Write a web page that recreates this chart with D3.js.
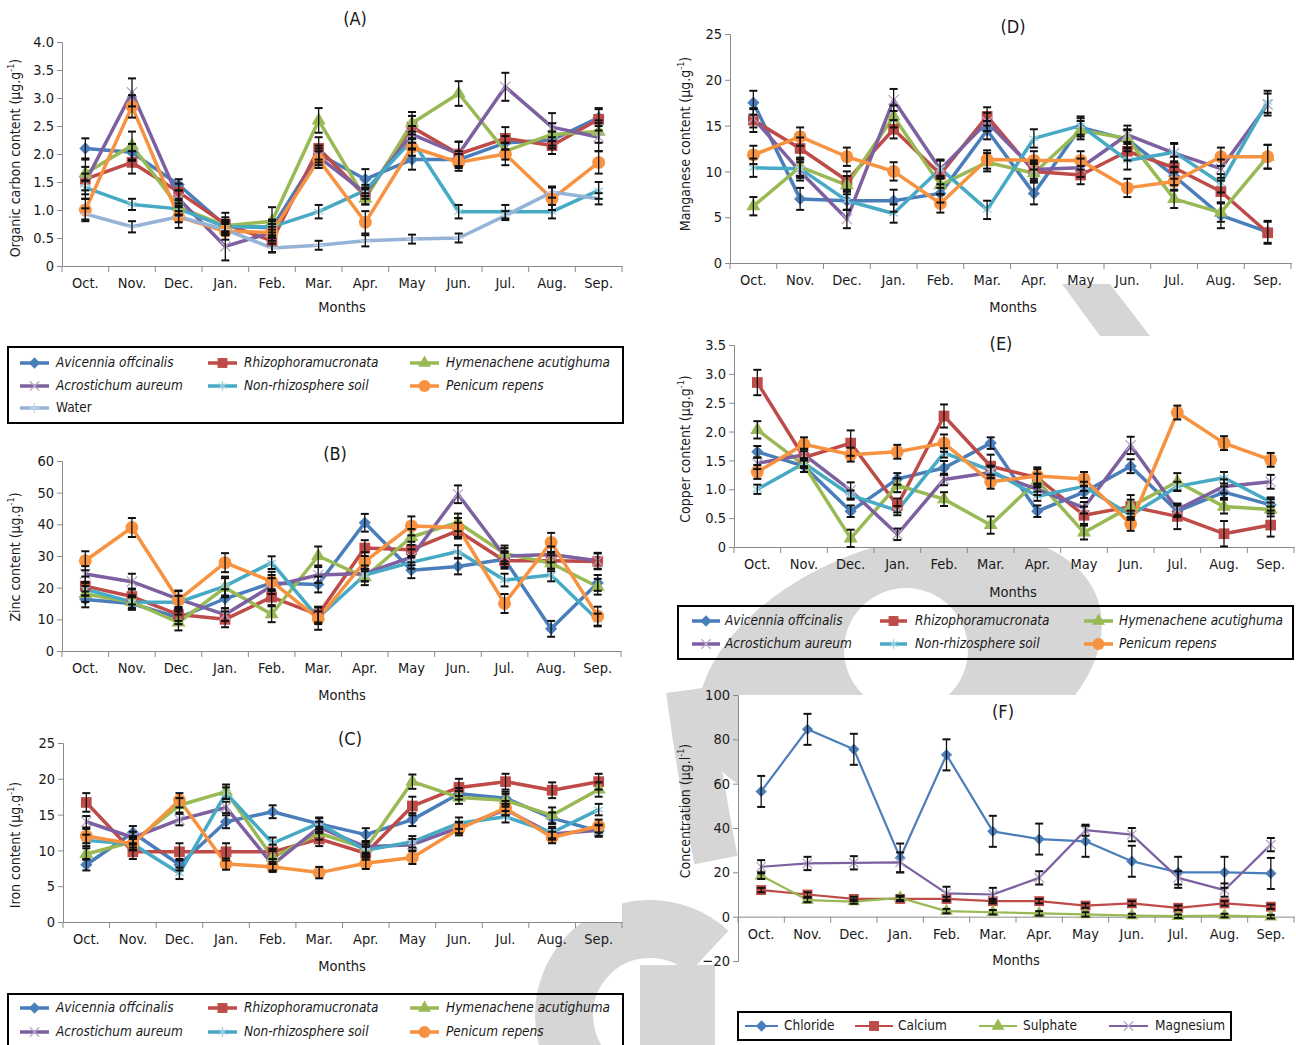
<!DOCTYPE html>
<html>
<head>
<meta charset="utf-8">
<script src="https://cdn.jsdelivr.net/npm/d3@7"></script>
<style>
    body { margin: 0; background: #fff; }
    svg text { font-family: "Liberation Sans Narrow", "Arial Narrow", "DejaVu Sans Condensed", sans-serif; fill: #1a1a1a; }
</style>
</head>
<body>
<svg id="chart" width="1296" height="1045"></svg>
<script>

//months on every x axis
const months = ["Oct.", "Nov.", "Dec.", "Jan.", "Feb.", "Mar.", "Apr.", "May", "Jun.", "Jul.", "Aug.", "Sep."];

//(A) organic carbon
const carbonAvicennia = [2.10, 2.03, 1.45, 0.72, 0.68, 2.00, 1.55, 1.90, 1.90, 2.20, 2.25, 2.65];
const carbonRhizophora = [1.55, 1.85, 1.32, 0.75, 0.45, 2.10, 1.25, 2.48, 2.00, 2.28, 2.15, 2.62];
const carbonHymenachene = [1.65, 2.15, 1.05, 0.72, 0.80, 2.60, 1.20, 2.55, 3.08, 2.05, 2.35, 2.40];
const carbonAcrostichum = [1.50, 3.10, 1.20, 0.35, 0.60, 1.95, 1.30, 2.35, 2.00, 3.20, 2.48, 2.30];
const carbonSoil = [1.40, 1.10, 1.02, 0.70, 0.70, 0.97, 1.35, 2.25, 0.97, 0.97, 0.97, 1.35];
const carbonPenicum = [1.00, 2.85, 0.88, 0.62, 0.60, 1.90, 0.78, 2.12, 1.85, 2.00, 1.20, 1.85];
const carbonWater = [0.93, 0.70, 0.88, 0.65, 0.32, 0.37, 0.45, 0.48, 0.50, 0.90, 1.32, 1.20];
const carbonAvicenniaErr = [0.18, 0.15, 0.10, 0.15, 0.15, 0.15, 0.18, 0.18, 0.15, 0.12, 0.15, 0.15];
const carbonRhizophoraErr = [0.35, 0.20, 0.15, 0.20, 0.20, 0.20, 0.15, 0.20, 0.22, 0.20, 0.15, 0.20];
const carbonHymenacheneErr = [0.12, 0.25, 0.15, 0.10, 0.25, 0.22, 0.10, 0.20, 0.22, 0.15, 0.20, 0.20];
const carbonAcrostichumErr = [0.15, 0.25, 0.15, 0.25, 0.10, 0.15, 0.10, 0.15, 0.22, 0.25, 0.25, 0.25];
const carbonSoilErr = [0.12, 0.10, 0.10, 0.10, 0.10, 0.12, 0.10, 0.15, 0.12, 0.12, 0.12, 0.15];
const carbonPenicumErr = [0.20, 0.20, 0.20, 0.15, 0.15, 0.15, 0.20, 0.15, 0.15, 0.20, 0.20, 0.20];
const carbonWaterErr = [0.10, 0.10, 0.10, 0.10, 0.08, 0.08, 0.10, 0.08, 0.08, 0.08, 0.10, 0.10];

//(B) zinc
const zincAvicennia = [16.3, 15.0, 10.5, 16.5, 21.5, 21.0, 40.5, 25.5, 26.7, 29.0, 7.0, 21.5];
const zincRhizophora = [20.5, 17.2, 11.5, 10.0, 17.0, 11.5, 32.5, 32.0, 38.0, 28.5, 28.5, 28.3];
const zincHymenachene = [18.0, 15.5, 9.0, 20.0, 11.6, 30.0, 23.3, 36.0, 40.6, 30.8, 27.7, 20.3];
const zincAcrostichum = [24.3, 21.9, 16.4, 11.5, 20.5, 24.0, 24.5, 29.6, 49.5, 30.0, 30.5, 28.5];
const zincSoil = [19.5, 15.5, 15.4, 20.5, 27.9, 10.5, 24.0, 28.0, 31.4, 22.4, 24.0, 9.8];
const zincPenicum = [28.5, 39.0, 16.1, 27.9, 22.0, 10.2, 28.2, 39.5, 39.0, 15.0, 34.3, 11.0];
const zincAvicenniaErr = [2.5, 2.0, 2.0, 3.0, 2.5, 2.5, 2.8, 2.5, 2.5, 2.5, 2.5, 2.5];
const zincRhizophoraErr = [3.0, 2.5, 2.0, 2.5, 2.5, 2.5, 2.5, 2.5, 2.5, 2.5, 2.5, 2.5];
const zincHymenacheneErr = [2.5, 2.0, 2.5, 3.0, 2.5, 3.0, 2.5, 2.5, 2.8, 2.5, 2.5, 2.5];
const zincAcrostichumErr = [2.5, 2.5, 2.5, 2.0, 2.5, 2.5, 2.5, 2.5, 2.8, 2.5, 2.5, 2.5];
const zincSoilErr = [2.0, 2.0, 2.0, 3.0, 2.0, 2.0, 2.0, 2.0, 2.0, 2.0, 2.0, 2.0];
const zincPenicumErr = [3.0, 3.0, 3.0, 3.0, 3.0, 3.5, 3.0, 3.0, 3.0, 3.0, 3.0, 3.0];

//(C) iron
const ironAvicennia = [8.0, 12.5, 8.0, 14.0, 15.4, 13.7, 12.2, 14.3, 17.9, 17.3, 14.5, 12.7];
const ironRhizophora = [16.7, 9.8, 9.8, 9.8, 9.8, 11.6, 9.6, 16.2, 18.8, 19.6, 18.4, 19.6];
const ironHymenachene = [9.5, 11.2, 16.3, 18.2, 9.0, 12.4, 10.3, 19.6, 17.4, 17.0, 14.9, 18.5];
const ironAcrostichum = [14.0, 11.8, 14.3, 16.0, 8.0, 13.2, 10.5, 10.8, 13.2, 15.7, 12.3, 12.8];
const ironSoil = [11.4, 10.9, 6.8, 18.0, 11.0, 13.8, 10.0, 11.2, 13.8, 14.7, 12.5, 15.7];
const ironPenicum = [12.0, 10.9, 17.0, 8.1, 7.7, 6.9, 8.2, 9.0, 13.0, 15.9, 11.8, 13.4];
const ironAvicenniaErr = [0.8, 0.9, 0.8, 0.9, 0.9, 0.8, 0.9, 0.9, 0.8, 0.9, 0.8, 0.8];
const ironRhizophoraErr = [1.3, 1.0, 1.2, 1.2, 1.0, 1.0, 0.9, 1.3, 1.2, 1.1, 1.1, 1.1];
const ironHymenacheneErr = [0.8, 0.8, 1.0, 1.0, 0.9, 0.9, 0.8, 1.0, 0.9, 0.9, 1.1, 1.0];
const ironAcrostichumErr = [0.8, 0.8, 0.8, 0.8, 0.8, 0.8, 0.8, 0.8, 0.8, 0.8, 0.8, 0.8];
const ironSoilErr = [0.8, 0.8, 0.8, 0.8, 0.8, 0.8, 0.8, 0.8, 0.8, 0.8, 0.8, 0.8];
const ironPenicumErr = [1.0, 0.9, 1.0, 0.8, 0.7, 0.8, 0.8, 0.9, 0.9, 1.0, 0.8, 0.9];

//(D) manganese
const mnAvicennia = [17.5, 7.0, 6.8, 6.8, 7.6, 14.5, 7.6, 14.8, 13.5, 9.5, 5.2, 3.4];
const mnRhizophora = [15.6, 12.5, 9.0, 14.6, 9.7, 16.0, 10.0, 9.6, 12.2, 10.4, 7.8, 3.3];
const mnHymenachene = [6.2, 10.5, 8.5, 16.0, 8.5, 11.0, 9.8, 14.5, 13.6, 7.0, 5.5, 11.6];
const mnAcrostichum = [15.8, 10.0, 4.8, 17.8, 10.2, 15.4, 10.2, 10.4, 14.0, 12.0, 10.3, 17.3];
const mnSoil = [10.4, 10.3, 6.8, 5.4, 10.3, 5.8, 13.6, 15.0, 11.2, 12.1, 8.7, 17.6];
const mnPenicum = [11.8, 13.8, 11.6, 10.0, 6.5, 11.3, 11.2, 11.2, 8.2, 8.9, 11.6, 11.6];
const mnAvicenniaErr = [1.3, 1.2, 1.0, 1.2, 1.0, 1.0, 1.2, 1.0, 1.0, 1.0, 1.4, 1.2];
const mnRhizophoraErr = [1.3, 1.2, 1.0, 1.0, 1.5, 1.0, 1.0, 1.0, 1.0, 1.2, 1.2, 1.2];
const mnHymenacheneErr = [1.0, 1.0, 1.0, 1.2, 1.0, 1.0, 1.0, 1.0, 1.0, 1.0, 1.0, 1.3];
const mnAcrostichumErr = [1.0, 1.0, 1.0, 1.2, 1.0, 1.0, 1.0, 1.0, 1.0, 1.0, 1.0, 1.2];
const mnSoilErr = [1.0, 1.0, 1.0, 1.0, 1.0, 1.0, 1.0, 1.0, 1.0, 1.0, 1.0, 1.2];
const mnPenicumErr = [1.0, 1.0, 1.0, 1.0, 1.0, 1.0, 1.0, 1.0, 1.0, 1.0, 1.0, 1.3];

//(E) copper
const cuAvicennia = [1.65, 1.40, 0.62, 1.18, 1.37, 1.80, 0.62, 0.95, 1.40, 0.62, 0.95, 0.73];
const cuRhizophora = [2.85, 1.55, 1.80, 0.72, 2.27, 1.40, 1.20, 0.55, 0.70, 0.53, 0.23, 0.38];
const cuHymenachene = [2.03, 1.42, 0.15, 1.07, 0.83, 0.38, 1.15, 0.25, 0.70, 1.13, 0.70, 0.65];
const cuAcrostichum = [1.45, 1.60, 0.98, 0.22, 1.17, 1.29, 1.00, 0.68, 1.76, 0.65, 1.05, 1.13];
const cuSoil = [1.00, 1.45, 0.90, 0.63, 1.63, 1.33, 0.88, 1.05, 0.55, 1.05, 1.20, 0.78];
const cuPenicum = [1.30, 1.78, 1.60, 1.65, 1.80, 1.13, 1.23, 1.18, 0.40, 2.33, 1.80, 1.51];
const cuAvicenniaErr = [0.10, 0.10, 0.10, 0.10, 0.12, 0.10, 0.10, 0.10, 0.12, 0.10, 0.10, 0.10];
const cuRhizophoraErr = [0.22, 0.15, 0.22, 0.12, 0.20, 0.20, 0.15, 0.15, 0.20, 0.22, 0.22, 0.20];
const cuHymenacheneErr = [0.15, 0.12, 0.15, 0.12, 0.12, 0.15, 0.12, 0.12, 0.12, 0.15, 0.12, 0.12];
const cuAcrostichumErr = [0.10, 0.10, 0.14, 0.10, 0.10, 0.10, 0.10, 0.10, 0.15, 0.10, 0.12, 0.12];
const cuSoilErr = [0.08, 0.08, 0.08, 0.08, 0.08, 0.08, 0.08, 0.08, 0.08, 0.08, 0.10, 0.08];
const cuPenicumErr = [0.12, 0.12, 0.12, 0.12, 0.15, 0.12, 0.15, 0.12, 0.12, 0.12, 0.12, 0.12];

//(F) water ions
const chloride = [56.5, 84.5, 75.5, 26.5, 73.0, 38.5, 35.0, 34.0, 25.0, 20.0, 20.0, 19.5];
const calcium = [12, 10, 8, 8, 8, 7, 7, 5, 6, 4, 6, 4.5];
const sulphate = [18.5, 7.5, 6.8, 8.5, 2.5, 2.0, 1.5, 1.0, 0.5, 0.2, 0.5, 0];
const magnesium = [22.5, 24.0, 24.3, 24.5, 10.5, 10.0, 17.5, 39.0, 37.0, 17.5, 12.0, 32.5];
const chlorideErr = [7, 7, 7, 6.5, 7, 7, 7, 7, 7, 7, 7, 7];
const calciumErr = [1, 1, 1, 1, 1, 1, 1, 1, 1, 1, 1, 1];
const sulphateErr = [1.5, 1, 1, 1, 1, 1, 1, 1, 0.8, 0.8, 0.8, 0.8];
const magnesiumErr = [3, 3, 3, 4.5, 3, 3, 3, 2.5, 3, 3, 3, 3];

//tick values of the y axes
const carbonTicks = [0, 0.5, 1.0, 1.5, 2.0, 2.5, 3.0, 3.5, 4.0];
const zincTicks = [0, 10, 20, 30, 40, 50, 60];
const ironTicks = [0, 5, 10, 15, 20, 25];
const mnTicks = [0, 5, 10, 15, 20, 25];
const cuTicks = [0, 0.5, 1.0, 1.5, 2.0, 2.5, 3.0, 3.5];
const ionTicks = [-20, 0, 20, 40, 60, 80, 100];

//series styles
const plantStyles = [
    { name: "Avicennia offcinalis", color: "#4a7ebb", marker: "diamond" },
    { name: "Rhizophoramucronata", color: "#be4b48", marker: "square" },
    { name: "Hymenachene acutighuma", color: "#98b954", marker: "triangle" },
    { name: "Acrostichum aureum", color: "#7d60a0", marker: "times" },
    { name: "Non-rhizosphere soil", color: "#46aac5", marker: "asterisk" },
    { name: "Penicum repens", color: "#f69240", marker: "circle" },
    { name: "Water", color: "#95b3d7", marker: "plus", upright: true }
];
const ionStyles = [
    { name: "Chloride", color: "#4a7ebb", marker: "diamond" },
    { name: "Calcium", color: "#be4b48", marker: "square" },
    { name: "Sulphate", color: "#98b954", marker: "triangle" },
    { name: "Magnesium", color: "#7d60a0", marker: "times" }
];

const svg = d3.select("#chart");

//watermark lying behind the charts
const grey = "#d6d6d6";
const mark = svg.append("g").attr("fill", grey).attr("stroke", "none");
mark.append("path").attr("d", "M1062,284 L1110,284 L1150,336 L1100,336 Z");
mark.append("ellipse").attr("cx", 900).attr("cy", 670).attr("rx", 210).attr("ry", 125)
    .attr("transform", "rotate(-20 900 670)");
mark.append("circle").attr("cx", 906).attr("cy", 650).attr("r", 62).attr("fill", "#fff");
mark.append("path").attr("fill", "none").attr("stroke", grey).attr("stroke-width", 44)
    .attr("d", "M688,690 Q700,780 716,860");
mark.append("path").attr("fill", "none").attr("stroke", grey).attr("stroke-width", 58)
    .attr("transform", "translate(650,1015)")
    .attr("d", d3.arc().innerRadius(86).outerRadius(86)({ startAngle: -2.4, endAngle: 0.75 }));
mark.append("rect").attr("x", 640).attr("y", 965).attr("width", 75).attr("height", 80);

//to draw one marker
function drawMarker(g, type, cx, cy, color, big) {
    const k = big ? 1 : 0.85;
    const sizes = { diamond: 95, square: 115, triangle: 85, circle: 130, times: 70, asterisk: 75, plus: 40 };
    const types = {
        diamond: d3.symbolDiamond2, square: d3.symbolSquare, triangle: d3.symbolTriangle,
        circle: d3.symbolCircle, times: d3.symbolTimes, asterisk: d3.symbolAsterisk, plus: d3.symbolPlus
    };
    const path = g.append("path")
        .attr("transform", `translate(${cx},${cy})`)
        .attr("d", d3.symbol().type(types[type]).size(sizes[type] * k)());
    if (type === "times" || type === "asterisk" || type === "plus") {
        path.attr("fill", "none").attr("stroke", d3.interpolateRgb(color, "#fff")(0.45)).attr("stroke-width", 1.3);
    } else {
        path.attr("fill", color);
    }
}

//to draw a panel with axes, lines, error bars and markers
function drawPanel(p) {
    const g = svg.append("g");
    const x = d3.scaleBand().domain(months).range([p.left, p.right]);
    const y = d3.scaleLinear().domain([p.ticks[0], p.ticks[p.ticks.length - 1]]).range([p.bottom, p.top]);
    const base = y(p.base);

    //white plot area hides the watermark
    g.append("rect").attr("x", p.left).attr("y", p.top).attr("width", p.right - p.left)
        .attr("height", p.bottom - p.top).attr("fill", "#fff");

    //y axis
    const yAxis = g.append("g").attr("transform", `translate(${p.left},0)`)
        .call(d3.axisLeft(y).tickValues(p.ticks).tickSize(5).tickPadding(3).tickFormat(p.fmt));
    yAxis.select(".domain").attr("stroke", "#8a8a8a");
    yAxis.selectAll(".tick line").attr("stroke", "#8a8a8a");
    yAxis.selectAll("text").attr("font-size", 14.5).attr("fill", "#1a1a1a");

    //x axis with ticks between the months
    const xAxis = g.append("g").attr("transform", `translate(0,${base})`)
        .call(d3.axisBottom(x).tickSize(0).tickPadding(p.labelGap));
    xAxis.select(".domain").attr("stroke", "#8a8a8a");
    xAxis.selectAll("text").attr("font-size", 14.5).attr("fill", "#1a1a1a");
    const edges = months.map(m => x(m)).concat([p.right]);
    g.selectAll(".xedge").data(edges).join("line")
        .attr("x1", d => d).attr("x2", d => d).attr("y1", base).attr("y2", base + 6)
        .attr("stroke", "#8a8a8a");

    //titles
    g.append("text").attr("x", p.titleX).attr("y", p.titleY).attr("text-anchor", "middle")
        .attr("dominant-baseline", "middle").attr("font-size", 18).text(p.title);
    g.append("text").attr("x", p.monthsX).attr("y", p.monthsY).attr("text-anchor", "middle")
        .attr("dominant-baseline", "middle").attr("font-size", 14.5).text("Months");
    const yt = g.append("text").attr("text-anchor", "middle").attr("font-size", 14)
        .attr("transform", `translate(${p.ylabX},${p.ylabY}) rotate(-90)`);
    yt.append("tspan").text(p.ylabel + "  (\u00b5g." + p.unit);
    yt.append("tspan").attr("dy", -6).attr("font-size", 9).text("-1");
    yt.append("tspan").attr("dy", 6).text(")");

    const cx = m => x(m) + x.bandwidth() / 2;
    const line = d3.line().x((d, i) => cx(months[i])).y(d => y(d));

    p.series.forEach(s => {
        g.append("path").datum(s.values).attr("d", line).attr("fill", "none")
            .attr("stroke", s.style.color).attr("stroke-width", p.lineWidth)
            .attr("stroke-linejoin", "round");
    });
    p.series.forEach(s => {
        s.values.forEach((v, i) => drawMarker(g, s.style.marker, cx(months[i]), y(v), s.style.color, p.bigMarkers));
    });
    p.series.forEach(s => {
        s.values.forEach((v, i) => {
            const e = s.errors[i];
            const xm = cx(months[i]);
            g.append("line").attr("x1", xm).attr("x2", xm).attr("y1", y(v - e)).attr("y2", y(v + e))
                .attr("stroke", "#111").attr("stroke-width", 1.3);
            [v - e, v + e].forEach(t => g.append("line").attr("x1", xm - 4).attr("x2", xm + 4)
                .attr("y1", y(t)).attr("y2", y(t)).attr("stroke", "#111").attr("stroke-width", 2));
        });
    });
}

//to draw a legend box
function drawLegend(box, rows, cols, items, italic, lineWidth) {
    const g = svg.append("g");
    g.append("rect").attr("x", box[0]).attr("y", box[1]).attr("width", box[2] - box[0])
        .attr("height", box[3] - box[1]).attr("fill", "none").attr("stroke", "#000").attr("stroke-width", 2);
    items.forEach((it, i) => {
        const r = rows[Math.floor(i / cols.length)];
        const c = cols[i % cols.length];
        g.append("line").attr("x1", c[0]).attr("x2", c[1]).attr("y1", r).attr("y2", r)
            .attr("stroke", it.color).attr("stroke-width", lineWidth);
        drawMarker(g, it.marker, (c[0] + c[1]) / 2, r, it.color, false);
        g.append("text").attr("x", c[2]).attr("y", r).attr("dominant-baseline", "middle")
            .attr("font-size", 13.5).attr("font-style", italic && !it.upright ? "italic" : "normal").text(it.name);
    });
}

const oneDec = d => d === 0 ? "0" : d3.format(".1f")(d);
const plain = d3.format("d");

const plantPanels = [
    {
        title: "(A)", ylabel: "Organic carbon content", unit: "g", ticks: carbonTicks, fmt: oneDec,
        left: 62, right: 622, top: 42, bottom: 266, base: 0, labelGap: 12,
        titleX: 355, titleY: 20, monthsX: 342, monthsY: 308, ylabX: 20, ylabY: 158,
        values: [carbonAvicennia, carbonRhizophora, carbonHymenachene, carbonAcrostichum, carbonSoil, carbonPenicum, carbonWater],
        errors: [carbonAvicenniaErr, carbonRhizophoraErr, carbonHymenacheneErr, carbonAcrostichumErr, carbonSoilErr, carbonPenicumErr, carbonWaterErr]
    },
    {
        title: "(B)", ylabel: "Zinc content", unit: "g", ticks: zincTicks, fmt: plain,
        left: 62, right: 621, top: 461, bottom: 651, base: 0, labelGap: 12,
        titleX: 335, titleY: 455, monthsX: 342, monthsY: 696, ylabX: 20, ylabY: 557,
        values: [zincAvicennia, zincRhizophora, zincHymenachene, zincAcrostichum, zincSoil, zincPenicum],
        errors: [zincAvicenniaErr, zincRhizophoraErr, zincHymenacheneErr, zincAcrostichumErr, zincSoilErr, zincPenicumErr]
    },
    {
        title: "(C)", ylabel: "Iron content", unit: "g", ticks: ironTicks, fmt: plain,
        left: 63, right: 622, top: 743, bottom: 922, base: 0, labelGap: 12,
        titleX: 350, titleY: 740, monthsX: 342, monthsY: 967, ylabX: 20, ylabY: 845,
        values: [ironAvicennia, ironRhizophora, ironHymenachene, ironAcrostichum, ironSoil, ironPenicum],
        errors: [ironAvicenniaErr, ironRhizophoraErr, ironHymenacheneErr, ironAcrostichumErr, ironSoilErr, ironPenicumErr]
    },
    {
        title: "(D)", ylabel: "Manganese content", unit: "g", ticks: mnTicks, fmt: plain,
        left: 730, right: 1291, top: 34, bottom: 263, base: 0, labelGap: 12,
        titleX: 1013, titleY: 28, monthsX: 1013, monthsY: 308, ylabX: 690, ylabY: 144,
        values: [mnAvicennia, mnRhizophora, mnHymenachene, mnAcrostichum, mnSoil, mnPenicum],
        errors: [mnAvicenniaErr, mnRhizophoraErr, mnHymenacheneErr, mnAcrostichumErr, mnSoilErr, mnPenicumErr]
    },
    {
        title: "(E)", ylabel: "Copper content", unit: "g", ticks: cuTicks, fmt: oneDec,
        left: 734, right: 1294, top: 345, bottom: 547, base: 0, labelGap: 12,
        titleX: 1001, titleY: 345, monthsX: 1013, monthsY: 593, ylabX: 690, ylabY: 449,
        values: [cuAvicennia, cuRhizophora, cuHymenachene, cuAcrostichum, cuSoil, cuPenicum],
        errors: [cuAvicenniaErr, cuRhizophoraErr, cuHymenacheneErr, cuAcrostichumErr, cuSoilErr, cuPenicumErr]
    }
];

plantPanels.forEach(p => {
    p.lineWidth = 3.5;
    p.bigMarkers = true;
    p.series = p.values.map((v, i) => ({ values: v, errors: p.errors[i], style: plantStyles[i] }));
    drawPanel(p);
});

drawPanel({
    title: "(F)", ylabel: "Concentration", unit: "l", ticks: ionTicks, fmt: plain,
    left: 738, right: 1294, top: 695, bottom: 961, base: 0, labelGap: 12,
    titleX: 1003, titleY: 713, monthsX: 1016, monthsY: 961, ylabX: 690, ylabY: 811,
    lineWidth: 2.2, bigMarkers: false,
    series: [chloride, calcium, sulphate, magnesium].map((v, i) => ({
        values: v, errors: [chlorideErr, calciumErr, sulphateErr, magnesiumErr][i], style: ionStyles[i]
    }))
});

//legends
const plantCols = [[20, 49, 56], [208, 237, 244], [410, 439, 446]];
drawLegend([8, 347, 623, 423], [363, 386, 408], plantCols, plantStyles, true, 3.5);
drawLegend([8, 994, 623, 1052], [1008, 1032], plantCols, plantStyles.slice(0, 6), true, 3.5);
drawLegend([678, 606, 1293, 659], [621, 644], [[692, 720, 725], [880, 907, 915], [1084, 1113, 1119]], plantStyles.slice(0, 6), true, 3.5);
drawLegend([738, 1012, 1231, 1040], [1026], [[745, 778, 784], [855, 893, 898], [979, 1017, 1023], [1109, 1148, 1155]], ionStyles, false, 2.2);

</script>
</body>
</html>
